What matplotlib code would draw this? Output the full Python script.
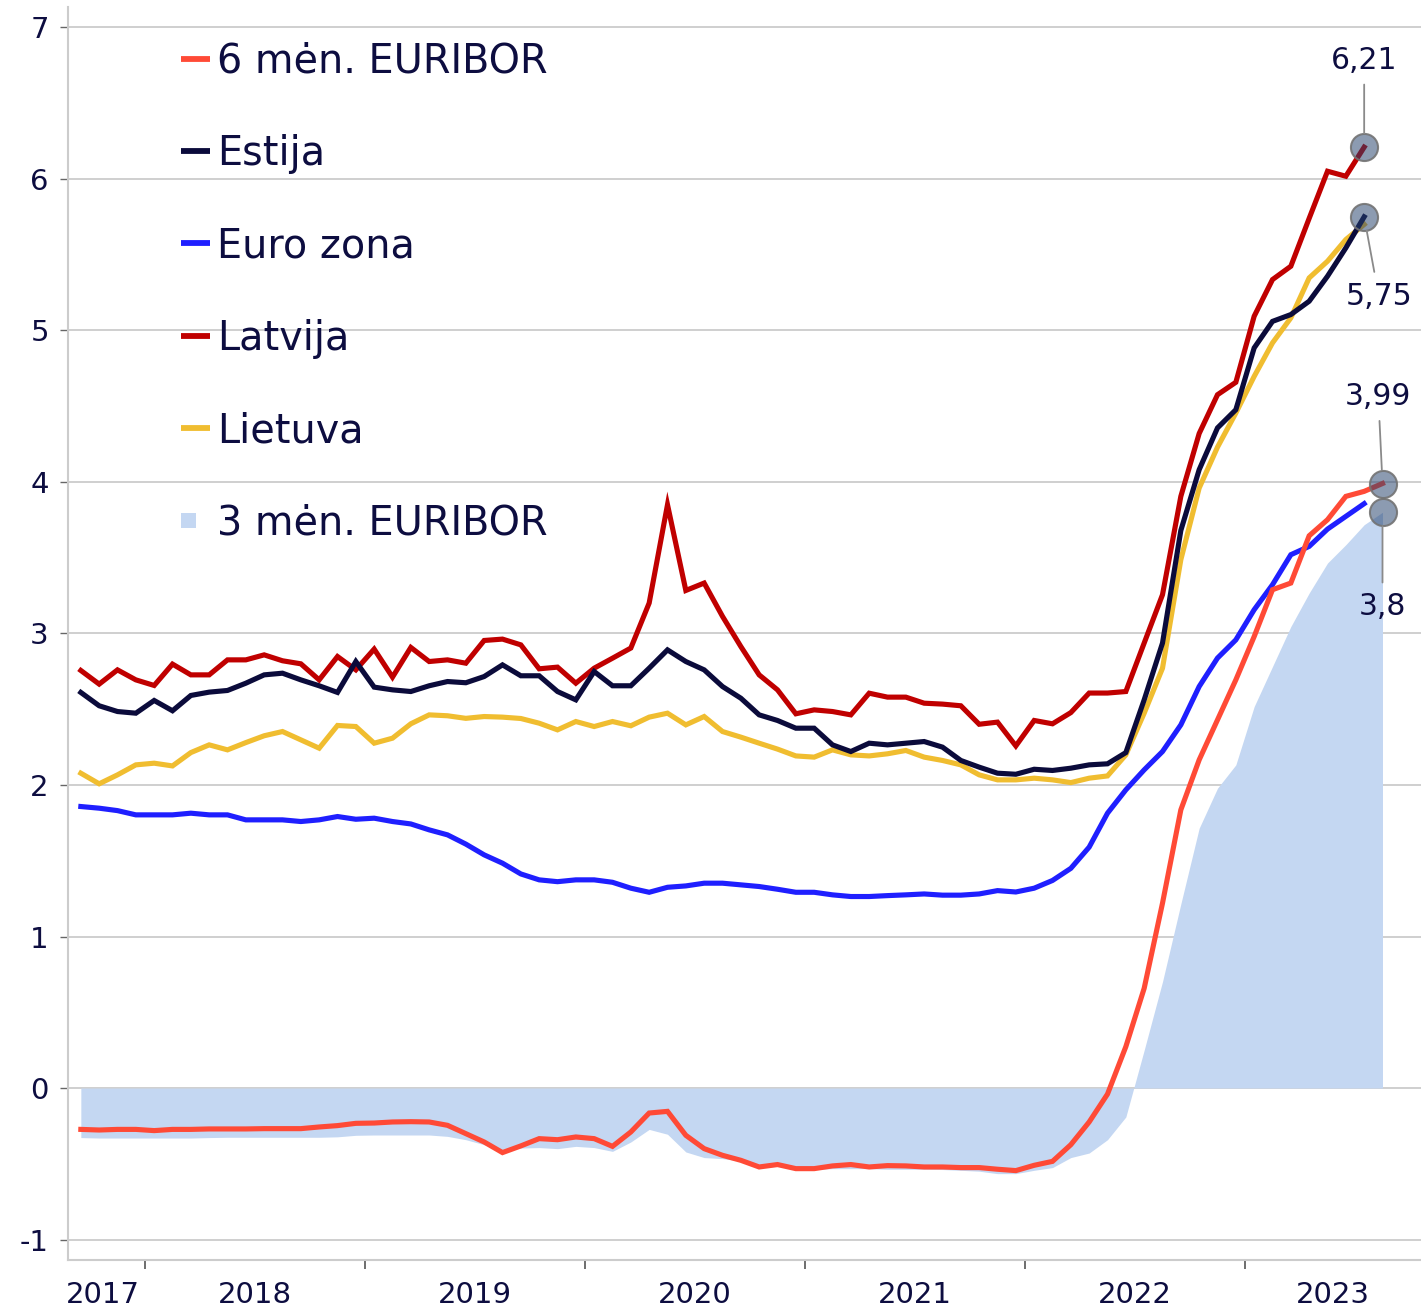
import matplotlib
matplotlib.use("Agg")
import matplotlib.pyplot as plt
import numpy as np
import pandas as pd
from matplotlib.legend_handler import HandlerBase
import matplotlib.patches as mpatches

plt.rcParams['font.family'] = ['DejaVu Sans']

# ---------------- data ----------------
months = pd.period_range('2017-09', '2023-08', freq='M')          # 72 months
country_months = pd.period_range('2017-09', '2023-07', freq='M')  # 71 months

latvija = [2.756, 2.666, 2.760, 2.694, 2.657, 2.798, 2.727, 2.727, 2.826, 2.826,
           2.859, 2.820, 2.800, 2.694, 2.848, 2.760, 2.897, 2.712, 2.908, 2.815,
           2.826, 2.804, 2.954, 2.963, 2.925, 2.767, 2.778, 2.672, 2.771, 2.837,
           2.904, 3.201, 3.850, 3.284, 3.333, 3.113, 2.914, 2.727, 2.628, 2.470,
           2.496, 2.485, 2.463, 2.606, 2.580, 2.580, 2.540, 2.534, 2.523, 2.401,
           2.415, 2.258, 2.426, 2.404, 2.478, 2.607, 2.607, 2.617, 2.937, 3.256,
           3.905, 4.320, 4.576, 4.658, 5.094, 5.336, 5.424, 5.740, 6.051, 6.018,
           6.210]

estija = [2.611, 2.523, 2.485, 2.474, 2.558, 2.490, 2.591, 2.613, 2.624, 2.672,
          2.727, 2.738, 2.694, 2.655, 2.611, 2.815, 2.646, 2.628, 2.617, 2.655,
          2.683, 2.675, 2.716, 2.793, 2.721, 2.721, 2.617, 2.562, 2.749, 2.655,
          2.655, 2.771, 2.892, 2.815, 2.760, 2.650, 2.573, 2.463, 2.426, 2.375,
          2.375, 2.265, 2.221, 2.276, 2.265, 2.276, 2.287, 2.250, 2.162, 2.118,
          2.078, 2.071, 2.104, 2.096, 2.111, 2.133, 2.140, 2.214, 2.562, 2.937,
          3.680, 4.081, 4.357, 4.477, 4.885, 5.060, 5.105, 5.193, 5.358, 5.545,
          5.750]

lietuva = [2.078, 2.008, 2.067, 2.133, 2.144, 2.126, 2.214, 2.265, 2.232, 2.280,
           2.325, 2.353, 2.298, 2.243, 2.393, 2.386, 2.276, 2.309, 2.404, 2.463,
           2.457, 2.440, 2.452, 2.448, 2.439, 2.408, 2.364, 2.419, 2.386, 2.419,
           2.391, 2.448, 2.474, 2.397, 2.452, 2.353, 2.316, 2.276, 2.237, 2.192,
           2.184, 2.232, 2.199, 2.192, 2.206, 2.228, 2.184, 2.162, 2.133, 2.067,
           2.034, 2.034, 2.045, 2.034, 2.016, 2.045, 2.060, 2.199, 2.474, 2.771,
           3.487, 3.960, 4.230, 4.455, 4.697, 4.918, 5.083, 5.347, 5.457, 5.600,
           5.700]

euro_zona = [1.858, 1.847, 1.831, 1.803, 1.803, 1.803, 1.814, 1.803, 1.803, 1.770,
             1.770, 1.770, 1.759, 1.770, 1.792, 1.774, 1.781, 1.759, 1.743, 1.704,
             1.671, 1.610, 1.539, 1.484, 1.413, 1.374, 1.362, 1.374, 1.374, 1.358,
             1.319, 1.292, 1.325, 1.334, 1.352, 1.352, 1.341, 1.330, 1.312, 1.292,
             1.292, 1.275, 1.264, 1.264, 1.270, 1.275, 1.281, 1.273, 1.273, 1.281,
             1.303, 1.294, 1.319, 1.370, 1.450, 1.590, 1.814, 1.968, 2.100, 2.221,
             2.397, 2.650, 2.838, 2.958, 3.157, 3.322, 3.520, 3.575, 3.689, 3.773,
             3.857]

euribor_6m = [-0.273, -0.277, -0.273, -0.273, -0.281, -0.273, -0.273, -0.270, -0.270, -0.270,
              -0.268, -0.268, -0.268, -0.257, -0.248, -0.233, -0.231, -0.224, -0.222, -0.224,
              -0.246, -0.301, -0.356, -0.426, -0.382, -0.334, -0.341, -0.323, -0.334, -0.385,
              -0.290, -0.165, -0.154, -0.312, -0.400, -0.444, -0.477, -0.521, -0.505, -0.532,
              -0.532, -0.514, -0.505, -0.521, -0.512, -0.514, -0.521, -0.521, -0.525, -0.525,
              -0.536, -0.545, -0.510, -0.484, -0.374, -0.224, -0.040, 0.273, 0.658, 1.220,
              1.836, 2.166, 2.430, 2.694, 2.980, 3.289, 3.333, 3.645, 3.751, 3.905,
              3.938, 3.990]

euribor_3m = [-0.327, -0.330, -0.330, -0.330, -0.330, -0.330, -0.330, -0.327, -0.325, -0.325,
              -0.325, -0.325, -0.325, -0.325, -0.322, -0.312, -0.310, -0.310, -0.310, -0.310,
              -0.319, -0.341, -0.374, -0.411, -0.396, -0.393, -0.400, -0.385, -0.393, -0.418,
              -0.356, -0.273, -0.305, -0.422, -0.459, -0.466, -0.481, -0.525, -0.516, -0.532,
              -0.538, -0.532, -0.532, -0.532, -0.536, -0.536, -0.536, -0.538, -0.543, -0.549,
              -0.565, -0.565, -0.543, -0.525, -0.459, -0.429, -0.341, -0.191, 0.250, 0.702,
              1.215, 1.715, 1.979, 2.133, 2.518, 2.782, 3.046, 3.267, 3.465, 3.586,
              3.718, 3.800]

year_labels = ['2017', '2018', '2019', '2020', '2021', '2022', '2023']
y_ticks = [-1, 0, 1, 2, 3, 4, 5, 6, 7]

# ---------------- helpers ----------------
def month_pos(periods):
    # month index relative to January 2018, placed mid-month
    return np.array([(p.year - 2018) * 12 + (p.month - 1) + 0.5 for p in periods])

x_all = month_pos(months)
x_cty = month_pos(country_months)

C_6M = '#FF4A36'
C_EE = '#0B0B3B'
C_EZ = '#1F1FFF'
C_LV = '#C00000'
C_LT = '#F0BD30'
C_3M = '#C4D7F2'
TXT = '#0D0D40'

fig = plt.figure(figsize=(14.21, 13.09), dpi=100)
ax = fig.add_axes([68 / 1421, 1 - 1260 / 1309, 1 - 68 / 1421, (1260 - 7) / 1309])

XMIN, XMAX = -4.2, 69.6
ax.set_xlim(XMIN, XMAX)
ax.set_ylim(-1.135, 7.135)

# grid
for yv in y_ticks:
    ax.axhline(yv, color='#CCCCCC', lw=1.3, zorder=0)

# 3m EURIBOR area
area = ax.fill_between(x_all, 0, euribor_3m, color=C_3M, lw=0, zorder=1,
                       label='3 mėn. EURIBOR')

lw = 3.7
ax.plot(x_cty, lietuva, color=C_LT, lw=lw, zorder=3, label='Lietuva', solid_joinstyle='miter')
ax.plot(x_cty, latvija, color=C_LV, lw=lw, zorder=4, label='Latvija', solid_joinstyle='miter')
ax.plot(x_cty, euro_zona, color=C_EZ, lw=lw, zorder=4, label='Euro zona', solid_joinstyle='miter')
ax.plot(x_all, euribor_6m, color=C_6M, lw=lw, zorder=5, label='6 mėn. EURIBOR', solid_joinstyle='miter')
ax.plot(x_cty, estija, color=C_EE, lw=lw, zorder=6, label='Estija', solid_joinstyle='miter')

# end markers + annotations
ends = [
    (x_cty[-1], latvija[-1], (0, 62.5)),
    (x_cty[-1], estija[-1], (10.5, -57)),
    (x_all[-1], euribor_6m[-1], (-3, 62.5)),
    (x_all[-1], euribor_3m[-1], (0, -68)),
]
for xe, ye, off in ends:
    ax.plot([xe], [ye], 'o', ms=19.5, mfc=(38/255, 66/255, 109/255, 0.53),
            mec=(0.45, 0.45, 0.45, 0.9), mew=1.5, zorder=8)
    lab = (f'{ye:.2f}'.rstrip('0').rstrip('.')).replace('.', ',')
    ax.annotate(lab, xy=(xe, ye), xytext=off, textcoords='offset points',
                ha='center', va='center', fontsize=21.5, color=TXT, zorder=9,
                arrowprops=dict(arrowstyle='-', color='#8A8A8A', lw=1.3,
                                shrinkA=5, shrinkB=10))

# axes styling
for s in ['top', 'right']:
    ax.spines[s].set_visible(False)
for s in ['left', 'bottom']:
    ax.spines[s].set_color('#CCCCCC')
    ax.spines[s].set_linewidth(1.5)

ax.set_yticks(y_ticks)
ax.set_yticklabels([str(v) for v in y_ticks])
ax.tick_params(axis='y', length=5.8, width=1, color='#666666', pad=8,
               labelsize=21, labelcolor=TXT)

year_starts = [0, 12, 24, 36, 48, 60]
ax.set_xticks(year_starts)
ax.set_xticklabels([''] * len(year_starts))
ax.tick_params(axis='x', which='major', length=6.5, width=1.2, color='#555555')
bounds = [XMIN] + year_starts + [XMAX]
label_pos = [(bounds[k] + bounds[k + 1]) / 2 for k in range(len(bounds) - 1)]
label_pos[0] -= 0.2
ax.set_xticks(label_pos, minor=True)
ax.set_xticklabels(year_labels, minor=True)
ax.tick_params(axis='x', which='minor', length=0, pad=15, labelsize=21, labelcolor=TXT)

# legend
class SquareHandler(HandlerBase):
    def create_artists(self, legend, orig_handle, xdescent, ydescent, width,
                       height, fontsize, trans):
        s = 15 * 0.72
        fc = orig_handle.get_facecolor()
        fc = fc[0] if np.ndim(fc) > 1 else fc
        r = mpatches.Rectangle((-xdescent, -ydescent + (height - s) / 2), s, s,
                               facecolor=fc, edgecolor='none', transform=trans)
        return [r]

h, l = ax.get_legend_handles_labels()
order = ['6 mėn. EURIBOR', 'Estija', 'Euro zona', 'Latvija', 'Lietuva', '3 mėn. EURIBOR']
hh = [h[l.index(o)] for o in order]
leg = ax.legend(hh, order, loc='upper left', bbox_to_anchor=(0.0835, 0.9725),
                borderaxespad=0, borderpad=0, frameon=False, fontsize=28.6,
                labelspacing=1.32, handlelength=0.725, handletextpad=0.175,
                handler_map={area: SquareHandler()})
for t in leg.get_texts():
    t.set_color(TXT)
for line in leg.get_lines():
    line.set_linewidth(4.2)
    line.set_solid_capstyle('butt')

fig.savefig('out.png', dpi=100)
